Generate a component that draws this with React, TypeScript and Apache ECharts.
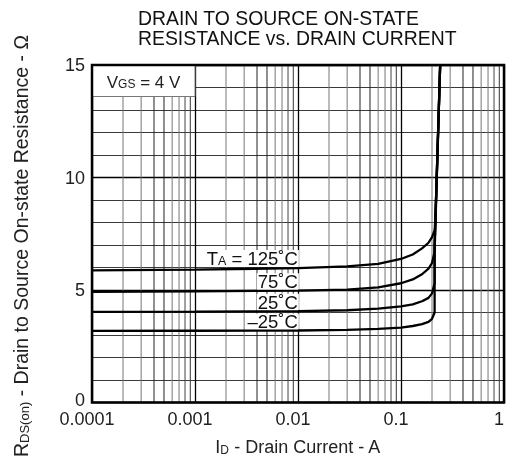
import React, { useEffect, useRef } from "react";
import * as echarts from "echarts";

const xTickLabels = ["0.0001", "0.001", "0.01", "0.1", "1"];
const minorMultipliers = [2, 3, 4, 5, 6, 7, 8, 9];
const decades = [0.0001, 0.001, 0.01, 0.1];

const tempValues = [125, 75, 25, -25];
const curve125 = [
  [0.0001, 5.87], [0.001, 5.91], [0.01, 5.97], [0.03, 6.05], [0.06, 6.16],
  [0.1, 6.38], [0.13, 6.58], [0.16, 6.85], [0.185, 7.1], [0.2, 7.35],
  [0.212, 7.65], [0.216, 8.2], [0.24, 15],
];
const curve75 = [
  [0.0001, 4.92], [0.001, 4.94], [0.01, 4.97], [0.03, 5.02], [0.06, 5.12],
  [0.1, 5.3], [0.13, 5.47], [0.16, 5.7], [0.185, 5.95], [0.2, 6.2],
  [0.212, 6.7], [0.214, 7.3], [0.24, 15],
];
const curve25 = [
  [0.0001, 4.03], [0.001, 4.04], [0.01, 4.06], [0.03, 4.1], [0.06, 4.17],
  [0.1, 4.27], [0.13, 4.36], [0.16, 4.5], [0.185, 4.65], [0.2, 4.85],
  [0.212, 5.3], [0.212, 7.0], [0.24, 15],
];
const curveM25 = [
  [0.0001, 3.18], [0.001, 3.19], [0.01, 3.2], [0.03, 3.23], [0.06, 3.27],
  [0.1, 3.33], [0.13, 3.4], [0.16, 3.48], [0.185, 3.58], [0.2, 3.72],
  [0.212, 4.0], [0.212, 7.0], [0.24, 15],
];
const curves = [curve125, curve75, curve25, curveM25];

// label anchor points (right edge of text) in data coords
const labelX = [0.0102, 0.0102, 0.0102, 0.0102];
const labelY = [6.4, 5.37, 4.46, 3.58];

const vgsBox = { x0: 0.0001, x1: 0.001, y0: 13.6, y1: 15 };

const minorColors: Record<number, string> = {
  2: "#777", 3: "#777", 4: "#222", 5: "#222", 6: "#777", 7: "#777", 8: "#444", 9: "#333",
};

const FONT = "'Liberation Sans', Arial, Helvetica, sans-serif";

export default function App() {
  const ref = useRef<HTMLDivElement>(null);
  useEffect(() => {
    if (!ref.current) return;
    const chart = echarts.init(ref.current, undefined, { renderer: "svg" });

    const minorData: any[] = [];
    decades.forEach((d) => {
      minorMultipliers.forEach((m) => {
        minorData.push([d * m, m]);
      });
    });

    const tempLabelText = tempValues.map((t, i) => {
      const s = (t < 0 ? "\u2013" + Math.abs(t) : String(t)) + "\u02DAC";
      return i === 0 ? "{t|T}{s|A}{t| = " + s + "}" : "{t|" + s + "}";
    });

    const option: any = {
      animation: false,
      textStyle: { fontFamily: FONT },
      title: {
        text: "DRAIN TO SOURCE ON-STATE\nRESISTANCE vs. DRAIN CURRENT",
        left: 133,
        top: 3,
        textStyle: { fontFamily: FONT, fontSize: 19.4, fontWeight: "normal", color: "#111", lineHeight: 20 },
      },
      grid: { left: 92, right: 9, top: 65, bottom: 48, show: true, borderColor: "#000", borderWidth: 2.5, z: 20 },
      xAxis: {
        type: "log",
        logBase: 10,
        min: 0.0001,
        max: 1,
        axisLine: { show: false },
        axisTick: { show: false },
        splitLine: { show: true, lineStyle: { color: "#000", width: 1.3 } },
        axisLabel: {
          fontFamily: FONT,
          fontSize: 18,
          color: "#222",
          margin: 7,
          padding: [0, 10, 0, 0],
          formatter: (v: number) => xTickLabels[Math.round(Math.log10(v)) + 4] ?? "",
        },
        name: "{t|I}{s|D}{t| - Drain Current - A}",
        nameLocation: "middle",
        nameGap: 34,
        nameTextStyle: {
          rich: {
            t: { fontFamily: FONT, fontSize: 18, color: "#222", lineHeight: 20 },
            s: { fontFamily: FONT, fontSize: 12, color: "#222", lineHeight: 20, padding: [7, 0, 0, 0] },
          },
        },
      },
      yAxis: {
        type: "value",
        min: 0,
        max: 15,
        interval: 5,
        axisLine: { show: false },
        axisTick: { show: false },
        minorTick: { show: false, splitNumber: 5 },
        splitLine: { show: true, lineStyle: { color: "#000", width: 1.3 } },
        minorSplitLine: { show: true, lineStyle: { color: "#3a3a3a", width: 1 } },
        axisLabel: {
          fontFamily: FONT,
          fontSize: 18,
          color: "#222",
          margin: 7,
          formatter: (v: number) => (v === 0 ? "{z|0}" : "{n|" + v + "}"),
          rich: {
            z: { fontFamily: FONT, fontSize: 18, color: "#222", padding: [0, 0, 5, 0] },
            n: { fontFamily: FONT, fontSize: 18, color: "#222" },
          },
        },
      },
      graphic: [
        {
          type: "text",
          x: 21,
          y: 246,
          rotation: Math.PI / 2,
          style: {
            text: "{t|R}{s|DS(on)}{t| - Drain to Source On-state Resistance - \u03A9}",
            textAlign: "center",
            textVerticalAlign: "middle",
            rich: {
              t: { fontFamily: FONT, fontSize: 19.5, fill: "#222", lineHeight: 22 },
              s: { fontFamily: FONT, fontSize: 13, fill: "#222", lineHeight: 22, padding: [7, 0, 0, 0] },
            },
          },
        },
      ],
      series: [
        {
          type: "custom",
          z: 1,
          silent: true,
          data: minorData,
          encode: { x: 0 },
          renderItem: (params: any, api: any) => {
            const x = api.value(0);
            const m = api.value(1);
            const p0 = api.coord([x, 0]);
            const p1 = api.coord([x, 15]);
            return {
              type: "line",
              shape: { x1: p0[0], y1: p0[1], x2: p1[0], y2: p1[1] },
              style: { stroke: minorColors[m], lineWidth: 1 },
            };
          },
        },
        {
          type: "line",
          data: [],
          z: 5,
          silent: true,
          markArea: {
            z: 5,
            silent: true,
            itemStyle: { color: "#fff", borderColor: "#777", borderWidth: 1 },
            label: {
              show: true,
              position: "inside",
              formatter: "{t|V}{s|GS}{t| = 4 V}",
              rich: {
                t: { fontFamily: FONT, fontSize: 17, color: "#222", lineHeight: 20, padding: [3, 0, 0, 0] },
                s: { fontFamily: FONT, fontSize: 12, color: "#222", lineHeight: 20, padding: [7, 0, 0, 0] },
              },
            },
            data: [[{ xAxis: vgsBox.x0, yAxis: vgsBox.y0 }, { xAxis: vgsBox.x1, yAxis: vgsBox.y1 }]],
          },
          markPoint: {
            z: 5,
            silent: true,
            symbol: "rect",
            symbolSize: 0,
            label: {
              show: true,
              position: "left",
              distance: 0,
              backgroundColor: "#fff",
              padding: [0, 1, 0, 1],
              rich: {
                t: { fontFamily: FONT, fontSize: 18.5, color: "#111", lineHeight: 17 },
                s: { fontFamily: FONT, fontSize: 12.5, color: "#111", lineHeight: 17, padding: [5, 0, 0, 0] },
              },
            },
            data: labelX.map((x, i) => ({
              coord: [x, labelY[i]],
              label: { formatter: tempLabelText[i] },
            })),
          },
        },
        ...curves.map((c, i) => ({
          type: "line",
          name: String(tempValues[i]),
          z: 8,
          data: c,
          showSymbol: false,
          symbol: "none",
          lineStyle: { color: "#000", width: 2.3 },
          silent: true,
        })),
      ],
    };
    chart.setOption(option);
    return () => chart.dispose();
  }, []);
  return <div ref={ref} style={{ position: "fixed", left: 0, top: 0, width: 513, height: 461 }} />;
}
